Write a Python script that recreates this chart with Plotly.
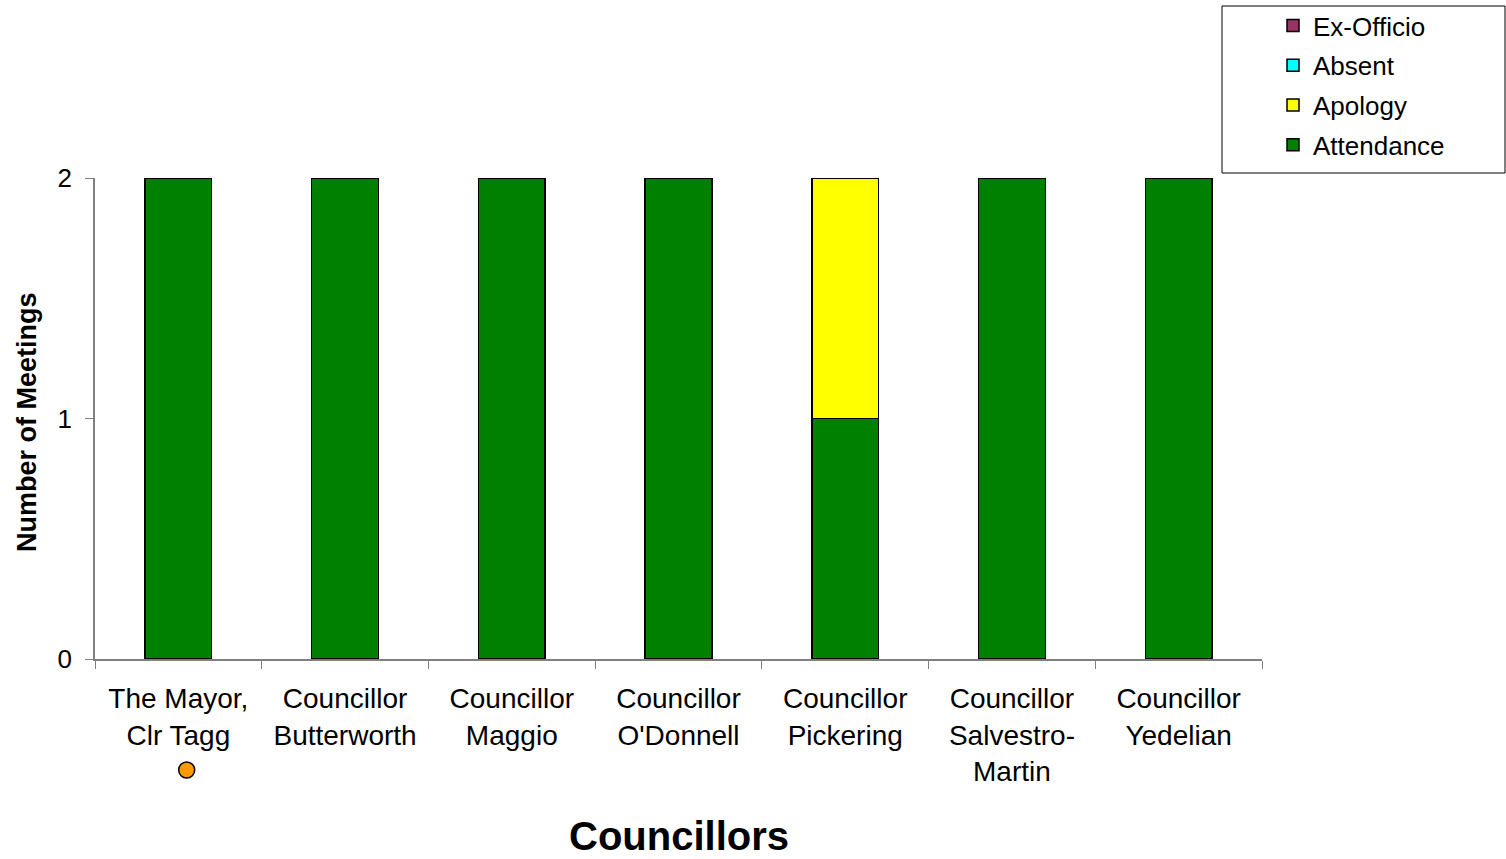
import plotly.graph_objects as go

councillors = [
    "The Mayor,<br>Clr Tagg",
    "Councillor<br>Butterworth",
    "Councillor<br>Maggio",
    "Councillor<br>O'Donnell",
    "Councillor<br>Pickering",
    "Councillor<br>Salvestro-<br>Martin",
    "Councillor<br>Yedelian",
]
attendance = [2, 2, 2, 2, 1, 2, 2]
apology = [0, 0, 0, 0, 1, 0, 0]
absent = [0, 0, 0, 0, 0, 0, 0]
ex_officio = [0, 0, 0, 0, 0, 0, 0]

# marker shown below the Mayor's label (strip subplot under the chart)
mayor_mark_x = [0.05]
mayor_mark_y = [0.2335]

FONT = "Liberation Sans, Arial, sans-serif"

# plot frame in pixels
L, R, T, B = 95, 1262, 178, 799
W, H = R - L, B - T
AXIS_Y = 659  # pixel row of the value axis zero line


def px(x):
    return (x - L) / W


def py(y):
    return (B - y) / H


# stacking order bottom-up; legend lists them top-down in reverse
series = [
    ("Attendance", attendance, "#008000", 4),
    ("Apology", apology, "#FFFF00", 3),
    ("Absent", absent, "#00FFFF", 2),
    ("Ex-Officio", ex_officio, "#993366", 1),
]

fig = go.Figure()
for name, vals, color, rank in series:
    fig.add_trace(go.Bar(
        x=councillors, y=vals, name=name, legendgroup=name, legendrank=rank,
        marker=dict(color=color, line=dict(color="black", width=1.5)),
    ))

fig.add_trace(go.Scatter(
    x=mayor_mark_x, y=mayor_mark_y, xaxis="x2", yaxis="y2", mode="markers",
    marker=dict(size=16, color="#FF9900", line=dict(color="black", width=1.5)),
    showlegend=False, hoverinfo="skip",
))

fig.update_layout(
    width=1506, height=859,
    margin=dict(l=L, r=1506 - R, t=T, b=859 - B, autoexpand=False),
    paper_bgcolor="white", plot_bgcolor="rgba(0,0,0,0)",
    barmode="stack", bargap=0.6,
    font=dict(family=FONT, size=26, color="black"),
    showlegend=True,
    legend=dict(
        traceorder="grouped", x=px(1273), y=py(2),
        xanchor="left", yanchor="top",
        font=dict(size=26), bgcolor="rgba(0,0,0,0)", borderwidth=0,
        tracegroupgap=3,
    ),
    xaxis=dict(
        type="category", showline=True, linecolor="#808080", linewidth=1.5,
        ticks="outside", tickson="boundaries", ticklen=8, tickcolor="#808080",
        showgrid=False, tickfont=dict(size=28), range=[-0.5, 6.5],
        ticklabelstandoff=14, anchor="y",
    ),
    yaxis=dict(
        domain=[py(AXIS_Y), 1],
        range=[0, 2], tickvals=[0, 1, 2], showline=True, linecolor="#808080",
        linewidth=1.5, ticks="outside", ticklen=8, tickcolor="#808080",
        showgrid=False, zeroline=False, tickfont=dict(size=26),
        ticklabelstandoff=8,
    ),
    xaxis2=dict(range=[-0.5, 6.5], visible=False, anchor="y2", fixedrange=True),
    yaxis2=dict(domain=[0, 0.2], range=[0, 1], visible=False, anchor="x2",
                fixedrange=True),
    shapes=[dict(
        type="rect", xref="paper", yref="paper",
        x0=px(1222), x1=px(1505), y0=py(173), y1=py(6),
        line=dict(color="black", width=1), fillcolor="rgba(0,0,0,0)",
    )],
    annotations=[
        dict(text="<b>Councillors</b>", xref="paper", yref="paper",
             x=px(679), y=py(836), showarrow=False,
             font=dict(size=40), xanchor="center", yanchor="middle"),
        dict(text="<b>Number of Meetings</b>", xref="paper", yref="paper",
             x=px(27), y=py(422), showarrow=False,
             textangle=-90, font=dict(size=27), xanchor="center", yanchor="middle"),
    ],
)

fig.write_html("out.html")
